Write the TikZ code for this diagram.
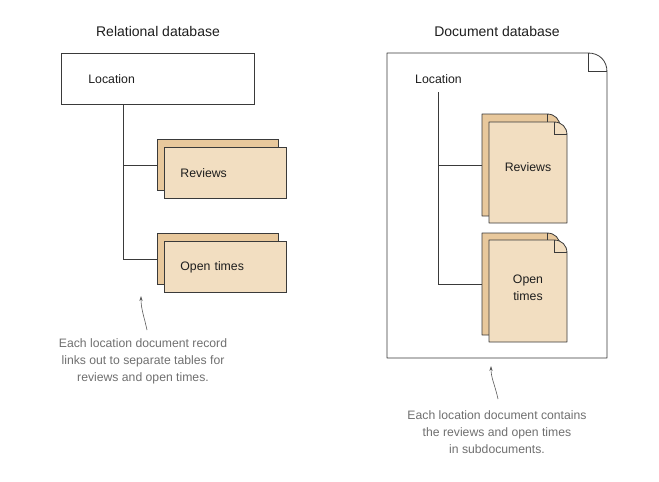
\documentclass[tikz,border=0pt]{standalone}
\usepackage{fontspec}
\setmainfont{Liberation Sans}
\usetikzlibrary{arrows.meta}
\definecolor{linec}{HTML}{3A3A3A}
\definecolor{tanfront}{HTML}{F2DEC1}
\definecolor{tanback}{HTML}{E8C89C}
\definecolor{notec}{HTML}{707070}
\definecolor{labelc}{HTML}{1E1E1E}
% dog-eared document: x, y, width, height, fold, fill
\newcommand\dogear[6]{%
  \filldraw[fill=#6, draw=linec, line width=0.8pt, line join=round]
    (#1,#2) -- ({#1+#3-#5},#2)
    .. controls ({#1+#3-#5+0.6*#5},#2) and ({#1+#3},{#2+#5-0.6*#5}) .. ({#1+#3},{#2+#5})
    -- ({#1+#3},{#2+#4}) -- (#1,{#2+#4}) -- cycle;
  \draw[draw=linec, line width=0.8pt] ({#1+#3-#5},#2) -- ({#1+#3-#5},{#2+#5-1}) -- ({#1+#3},{#2+#5-1});
}
\begin{document}
\begin{tikzpicture}[x=1pt,y=-1pt,
  every node/.style={text=labelc},
  title/.style={font=\fontsize{14}{16}\selectfont, inner sep=0pt},
  label/.style={font=\fontsize{12.3}{15}\selectfont, inner sep=0pt},
  locbox/.style={draw=linec, fill=white, line width=0.8pt, anchor=north west,
    minimum height=51pt, text width=139pt, inner xsep=27pt, inner ysep=0pt, align=left,
    font=\fontsize{12.3}{15}\selectfont},
  backbox/.style={draw=linec, fill=tanback, line width=0.8pt, anchor=north west,
    minimum width=121pt, minimum height=51pt, inner sep=0pt},
  frontbox/.style={draw=linec, fill=tanfront, line width=0.8pt, anchor=north west,
    minimum height=51pt, text width=90pt, inner xsep=16pt, inner ysep=0pt, align=left,
    font=\fontsize{12.3}{15}\selectfont},
  holder/.style={anchor=north west, minimum width=78pt, minimum height=102pt, inner sep=0pt},
  conn/.style={draw=linec, line width=0.8pt},
  note/.style={text=notec, align=center, inner sep=0pt, font=\fontsize{12.2}{17}\selectfont},
  notearrow/.style={draw=notec!80!black, line width=0.6pt, -{Stealth[length=5pt,width=3.2pt]}}
]
\useasboundingbox (0,0) rectangle (659,482);
\fill[white] (0,0) rectangle (659,482);

% ---------- Relational database ----------
\node[title] (t1) at (158,31) {Relational database};
\node[locbox] (loc) at (61,53) {Location};
\coordinate (trunk) at (123,104);
\node[backbox] (revb) at (157,139) {};
\node[frontbox] (revf) at (164,147) {Reviews};
\node[backbox] (otb) at (157,233) {};
\node[frontbox] (otf) at (164,241) {Open times};
\draw[conn] (trunk) |- (otb.west);
\draw[conn] (revb.west) -- (revb.west -| trunk);

\node[note] (n1) at (143,361) {Each location document record\\links out to separate tables for\\reviews and open times.};
\coordinate (a1s) at (147,330);
\coordinate (a1e) at (141,296);
\draw[notearrow] (a1s) .. controls (144,316) and (141,309) .. (a1e);

% ---------- Document database ----------
\node[title] (t2) at (497,31) {Document database};
\dogear{387}{53}{220}{305}{19}{white}
\node[label, anchor=west] (dloc) at (415,79) {Location};
\coordinate (dtrunk) at (438,92);

\dogear{482}{114}{78}{102}{13}{tanback}
\dogear{489}{122}{78}{101}{13}{tanfront}
\node[holder] (drevb) at (482,114) {};
\node[label] (drevf) at (528,167) {Reviews};

\dogear{482}{233}{78}{102}{13}{tanback}
\dogear{489}{240}{78}{102}{13}{tanfront}
\node[holder] (dotb) at (482,233) {};
\node[label, align=center, font=\fontsize{12.3}{16.5}\selectfont] (dotf) at (528,288) {Open\\times};

\draw[conn] (dtrunk) |- (dotb.west);
\draw[conn] (drevb.west) -- (drevb.west -| dtrunk);

\node[note] (n2) at (497,432) {Each location document contains\\the reviews and open times\\in subdocuments.};
\coordinate (a2s) at (498,399);
\coordinate (a2e) at (491,366);
\draw[notearrow] (a2s) .. controls (495,385) and (491,378) .. (a2e);
\end{tikzpicture}
\end{document}
